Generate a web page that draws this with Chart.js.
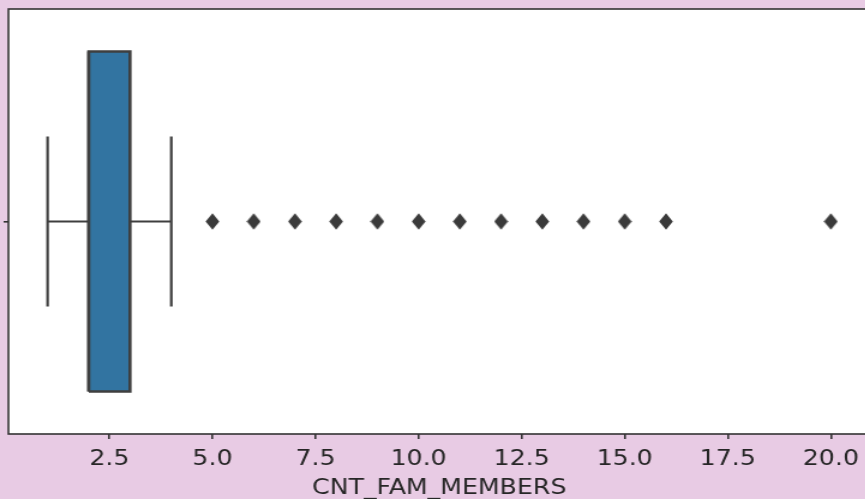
<!DOCTYPE html>
<html><head><meta charset="utf-8">
<script src="https://cdn.jsdelivr.net/npm/chart.js@4"></script>
<style>
html,body{margin:0;padding:0;background:#e8cbe4;overflow:hidden;width:865px;height:499px}
#wrap{position:absolute;left:0;top:0;width:732px;height:499px;transform:scaleX(1.2);transform-origin:0 0}
canvas{display:block}
</style></head><body>
<div id="wrap"><canvas id="c" width="732" height="499"></canvas></div>
<script>
const variableName = 'CNT_FAM_MEMBERS';
const whiskerLow = 1;
const q1 = 2;
const median = 2;
const q3 = 3;
const whiskerHigh = 4;
const outliers = [5, 6, 7, 8, 9, 10, 11, 12, 13, 14, 15, 16, 20];
const xTicks = [2.5, 5, 7.5, 10, 12.5, 15, 17.5, 20];
const xRange = [0.05, 20.95];

const BOX_HALF = 0.4, CAP_HALF = 0.2;
const lineCol = '#3f3f3f';

// diamond marker image (seaborn 'd')
const dia = document.createElement('canvas');
dia.width = 12; dia.height = 17;
(function(){
  const g = dia.getContext('2d');
  g.fillStyle = '#3a3a3a';
  g.beginPath();
  g.moveTo(6, 0.3); g.lineTo(11.7, 8.5); g.lineTo(6, 16.7); g.lineTo(0.3, 8.5); g.closePath();
  g.fill();
})();

Chart.defaults.font.family = "'DejaVu Sans'";
Chart.defaults.color = '#262626';

const frame = {
  id: 'frame',
  beforeDraw(chart) {
    const {ctx, chartArea: a} = chart;
    ctx.save();
    ctx.fillStyle = '#ffffff';
    ctx.fillRect(a.left, a.top, a.right - a.left, a.bottom - a.top);
    ctx.restore();
  },
  afterDraw(chart) {
    const {ctx, chartArea: a} = chart;
    ctx.save();
    ctx.strokeStyle = '#333';
    ctx.lineWidth = 1.6;
    ctx.strokeRect(a.left, a.top, a.right - a.left, a.bottom - a.top);
    ctx.restore();
  }
};

const seg = (pts, w) => ({
  data: pts, showLine: true, borderColor: lineCol, borderWidth: w,
  pointRadius: 0, pointHoverRadius: 0, fill: false, tension: 0
});

new Chart(document.getElementById('c'), {
  type: 'scatter',
  data: {
    datasets: [
      Object.assign(seg([
        {x: q1, y: -BOX_HALF}, {x: q3, y: -BOX_HALF}, {x: q3, y: BOX_HALF},
        {x: q1, y: BOX_HALF}, {x: q1, y: -BOX_HALF}], 2.6),
        {fill: 'shape', backgroundColor: '#3274a1', borderJoinStyle: 'miter'}),
      seg([{x: median, y: -BOX_HALF}, {x: median, y: BOX_HALF}], 2.6),
      seg([{x: whiskerLow, y: 0}, {x: q1, y: 0}], 2.2),
      seg([{x: q3, y: 0}, {x: whiskerHigh, y: 0}], 2.2),
      seg([{x: whiskerLow, y: -CAP_HALF}, {x: whiskerLow, y: CAP_HALF}], 2.2),
      seg([{x: whiskerHigh, y: -CAP_HALF}, {x: whiskerHigh, y: CAP_HALF}], 2.2),
      {
        data: outliers.map(v => ({x: v, y: 0})),
        pointStyle: dia, pointRadius: 6, pointHoverRadius: 6, showLine: false
      }
    ]
  },
  options: {
    responsive: false,
    animation: false,
    events: [],
    layout: {padding: {left: 0, top: 9, right: 2, bottom: 0}},
    plugins: {legend: {display: false}, tooltip: {enabled: false}},
    scales: {
      x: {
        type: 'linear', min: xRange[0], max: xRange[1],
        afterBuildTicks: s => { s.ticks = xTicks.map(v => ({value: v})); },
        afterFit: s => { s.height = 65; s.paddingLeft = 0; s.paddingRight = 0; },
        ticks: {font: {size: 21}, padding: 8, callback: v => Number(v).toFixed(1), maxRotation: 0, autoSkip: false},
        grid: {drawOnChartArea: false, drawTicks: true, tickLength: 5, color: '#333', lineWidth: 1.6},
        border: {display: false},
        title: {display: true, text: variableName, font: {size: 21}, padding: {top: 2, bottom: -2}}
      },
      y: {
        type: 'linear', min: -0.5, max: 0.5,
        afterBuildTicks: s => { s.ticks = [{value: 0}]; },
        afterFit: s => { s.width = 6.5; s.paddingTop = 0; s.paddingBottom = 0; },
        ticks: {display: false},
        grid: {drawOnChartArea: false, drawTicks: true, tickLength: 4, color: '#333', lineWidth: 1.6},
        border: {display: false}
      }
    }
  },
  plugins: [frame]
});
</script>
</body></html>
